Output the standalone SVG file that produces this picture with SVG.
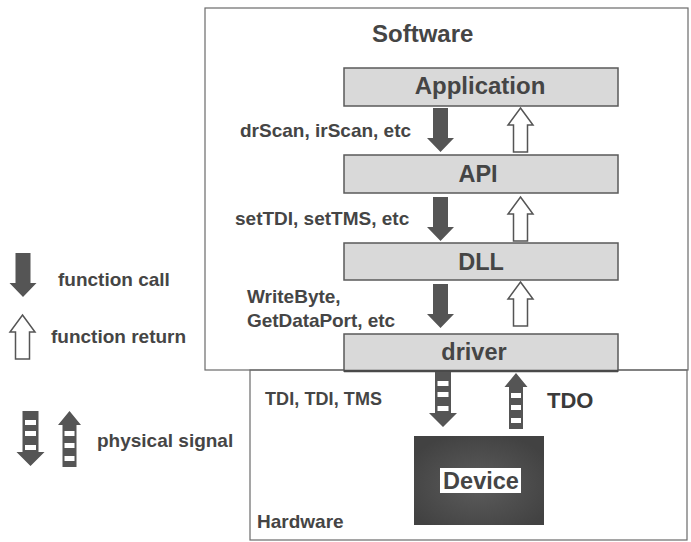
<svg xmlns="http://www.w3.org/2000/svg" width="691" height="542" viewBox="0 0 691 542">
  <style>
    text { font-family: "Liberation Sans", Arial, sans-serif; font-weight: bold; fill: #454545; }
    .lbl { font-size: 19px; }
    .title { font-size: 23.5px; text-anchor: middle; }
    .frame { fill: none; stroke: #6a6a6a; stroke-width: 1.2; }
    .layer { fill: #d9d9d9; stroke: #5a5a5a; stroke-width: 1.5; }
    .call { fill: #555555; }
    .ret { fill: #ffffff; stroke: #555555; stroke-width: 1.5; }
    .sig { fill: #555555; }
    .stripe { fill: #ffffff; }
  </style>
  <defs>
    <!-- filled down arrow: function call -->
    <path id="call" d="M-7.5,0 h15 v30 h6 L0,44 L-13.5,30 h6 Z"/>
    <!-- hollow up arrow: function return -->
    <path id="ret" d="M0,0 L12.5,17 h-5.5 v27 h-14 v-27 h-5.5 Z"/>
    <!-- striped arrows: physical signal -->
    <g id="sigDown">
      <path class="sig" d="M-8,0 h16 v41 h6 L0,55 L-14,41 h6 Z"/>
      <rect class="stripe" x="-5.5" y="9" width="11" height="5"/>
      <rect class="stripe" x="-5.5" y="20" width="11" height="5"/>
      <rect class="stripe" x="-5.5" y="34" width="11" height="5"/>
    </g>
    <g id="sigUp">
      <path class="sig" d="M0,0 L11.5,14 h-4.5 v42 h-14 v-42 h-4.5 Z"/>
      <rect class="stripe" x="-5" y="20" width="10" height="5"/>
      <rect class="stripe" x="-5" y="32" width="10" height="5"/>
      <rect class="stripe" x="-5" y="45" width="10" height="5"/>
    </g>
    <radialGradient id="chip" cx="50%" cy="55%" r="60%">
      <stop offset="0" stop-color="#5c5c5c"/>
      <stop offset="1" stop-color="#424242"/>
    </radialGradient>
  </defs>

  <rect width="691" height="542" fill="#ffffff"/>

  <!-- software and hardware frames -->
  <g id="software">
    <rect class="frame" x="205" y="8" width="483" height="362"/>
    <text x="372" y="42" style="font-size:24px">Software</text>
  </g>
  <g id="hardware">
    <rect class="frame" x="250" y="370" width="437" height="170"/>
    <text class="lbl" x="257" y="528">Hardware</text>
  </g>

  <!-- software layers -->
  <g id="application">
    <rect class="layer" x="344" y="68" width="274" height="38"/>
    <text class="title" x="480" y="94" style="font-size:24px">Application</text>
  </g>
  <g id="api">
    <rect class="layer" x="344" y="155" width="274" height="38"/>
    <text class="title" x="478" y="182">API</text>
  </g>
  <g id="dll">
    <rect class="layer" x="344" y="243" width="274" height="37"/>
    <text class="title" x="481" y="270">DLL</text>
  </g>
  <g id="driver">
    <rect class="layer" x="344" y="334" width="274" height="37"/>
    <line x1="344" y1="371" x2="618" y2="371" stroke="#4a4a4a" stroke-width="2.5"/>
    <text class="title" x="474" y="360">driver</text>
  </g>

  <!-- device -->
  <g id="device">
    <rect x="414" y="436" width="130" height="89" fill="url(#chip)"/>
    <rect x="440" y="468" width="81" height="25" fill="#ffffff"/>
    <text class="title" x="481" y="489">Device</text>
  </g>

  <!-- call / return / signal arrows between layers -->
  <g id="connectors">
    <use href="#call" class="call" x="440.5" y="108"/>
    <use href="#ret" class="ret" x="520.5" y="108"/>
    <use href="#call" class="call" x="440.5" y="197"/>
    <use href="#ret" class="ret" x="520.5" y="197"/>
    <use href="#call" class="call" x="440.5" y="284"/>
    <use href="#ret" class="ret" x="520.5" y="282"/>
    <use href="#sigDown" x="443" y="372"/>
    <use href="#sigUp" x="516" y="373"/>
  </g>

  <!-- connector labels -->
  <g id="labels">
    <text class="lbl" x="240" y="137">drScan, irScan, etc</text>
    <text class="lbl" x="235" y="225">setTDI, setTMS, etc</text>
    <text class="lbl" x="247" y="303">WriteByte,</text>
    <text class="lbl" x="247" y="327" textLength="148">GetDataPort, etc</text>
    <text x="265" y="405" style="font-size:18px" textLength="117">TDI, TDI, TMS</text>
    <text x="547" y="408" style="font-size:22px;fill:#3a3a3a">TDO</text>
  </g>

  <!-- legend -->
  <g id="legend">
    <use href="#call" class="call" x="23" y="253"/>
    <text class="lbl" x="58" y="286">function call</text>
    <use href="#ret" class="ret" x="22.5" y="315"/>
    <text class="lbl" x="51" y="343">function return</text>
    <use href="#sigDown" x="30.5" y="411"/>
    <use href="#sigUp" x="69.5" y="411"/>
    <text class="lbl" x="97" y="447">physical signal</text>
  </g>
</svg>
